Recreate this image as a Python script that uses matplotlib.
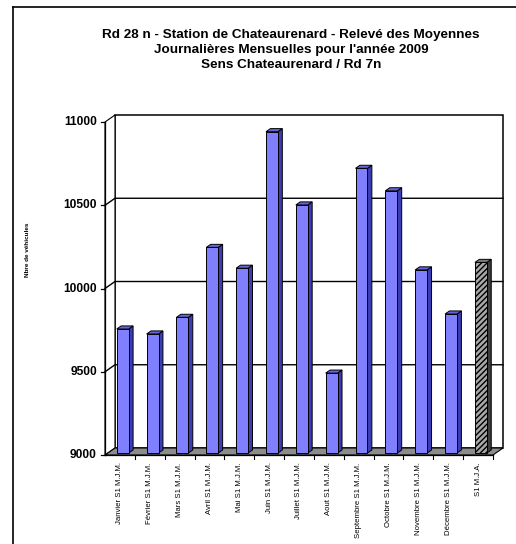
import matplotlib.pyplot as plt
from matplotlib.patches import Polygon, Rectangle
from matplotlib.lines import Line2D

months = ["Janvier S1 M.J.M.", "Février S1 M.J.M.", "Mars S1 M.J.M.", "Avril S1 M.J.M.",
          "Mai S1 M.J.M.", "Juin S1 M.J.M.", "Juillet S1 M.J.M.", "Aout S1 M.J.M.",
          "Septembre S1 M.J.M.", "Octobre S1 M.J.M.", "Novembre S1 M.J.M.",
          "Décembre S1 M.J.M.", "S1 M.J.A."]
values = [9745, 9715, 9815, 10235, 10110, 10930, 10490, 9480, 10710, 10575, 10100, 9835, 10145]
yticks = [9000, 9500, 10000, 10500, 11000]

title = ("Rd 28 n - Station de Chateaurenard - Relevé des Moyennes\n"
         "Journalières Mensuelles pour l'année 2009\n"
         "Sens Chateaurenard / Rd 7n")

plt.rcParams['font.family'] = ['Liberation Sans', 'DejaVu Sans']

W, H = 516, 544
fig = plt.figure(figsize=(W / 100, H / 100), dpi=100)

# outer frame (left + top)
fig.add_artist(Line2D([13 / W, 13 / W], [0, 1 - 7 / H], color='black', lw=1.2))
fig.add_artist(Line2D([13 / W, 1], [1 - 7 / H, 1 - 7 / H], color='black', lw=1.2))

fig.text(291 / W, 1 - 50 / H, title, ha='center', va='center', fontsize=9.7,
         fontweight='bold', linespacing=1.33)

ax = fig.add_axes([105 / W, (H - 455) / H, 388 / W, 333 / H])
n = len(values)
ymin, ymax = yticks[0], yticks[-1]
ax.set_xlim(-0.5, n - 0.5)
ax.set_ylim(ymin, ymax)
for s in ax.spines.values():
    s.set_visible(False)
ax.set_xticks([])
ax.set_yticks([])
ax.patch.set_alpha(0)

# depth offsets (category units / value units)
dx, dy = 0.335, 42
x0, x1 = -0.5, n - 0.5


def poly(pts, **kw):
    p = Polygon(pts, closed=True, clip_on=False, **kw)
    ax.add_patch(p)
    return p


# back wall and left wall
poly([(x0 + dx, ymin + dy), (x1 + dx, ymin + dy), (x1 + dx, ymax + dy), (x0 + dx, ymax + dy)],
     facecolor='white', edgecolor='black', lw=1.1, zorder=1)
poly([(x0, ymin), (x0 + dx, ymin + dy), (x0 + dx, ymax + dy), (x0, ymax)],
     facecolor='white', edgecolor='black', lw=0.8, zorder=1)
# gridlines
for t in yticks[1:-1]:
    ax.plot([x0, x0 + dx, x1 + dx], [t, t + dy, t + dy], color='black', lw=1.0,
            clip_on=False, zorder=2)
# floor
poly([(x0, ymin), (x1, ymin), (x1 + dx, ymin + dy), (x0 + dx, ymin + dy)],
     facecolor='#8c8c8c', edgecolor='black', lw=0.8, zorder=2)

# front axes
ax.plot([x0, x0], [ymin, ymax], color='black', lw=0.9, clip_on=False, zorder=3)
ax.plot([x0, x1], [ymin, ymin], color='black', lw=0.9, clip_on=False, zorder=3)
for t in yticks:
    ax.plot([x0 - 0.15, x0], [t, t], color='black', lw=0.9, clip_on=False, zorder=3)
    ax.text(x0 - 0.27, t, str(t), ha='right', va='center', fontsize=8.6, fontweight='bold')
for i in range(n):
    ax.plot([i + 0.5, i + 0.5], [ymin, ymin - 25], color='black', lw=0.8,
            clip_on=False, zorder=3)
    ax.text(i, ymin - 45, months[i], rotation=90, ha='center', va='top', fontsize=5.6)

ax.text(-3.1, 10230, "Nbre de véhicules", rotation=90, ha='center', va='center',
        fontsize=4.6, fontweight='bold')

# 3D-like bars
bw = 0.4
f0, f1 = 0.28, 0.72
for i, v in enumerate(values):
    last = i == n - 1
    front = '#a8a8a8' if last else '#8080ff'
    side = '#3c3c3c' if last else '#3c3cb4'
    top = '#7a7a7a' if last else '#6464dc'
    hatch = '//////' if last else None
    xl = i - bw / 2 + f0 * dx
    xr = xl + bw
    yb = ymin + f0 * dy
    yt = v + f0 * dy
    ddx = (f1 - f0) * dx
    ddy = (f1 - f0) * dy
    poly([(xr, yb), (xr + ddx, yb + ddy), (xr + ddx, yt + ddy), (xr, yt)],
         facecolor=side, edgecolor='black', lw=0.7, zorder=4)
    poly([(xl, yt), (xr, yt), (xr + ddx, yt + ddy), (xl + ddx, yt + ddy)],
         facecolor=top, edgecolor='black', lw=0.7, zorder=4)
    r = Rectangle((xl, yb), bw, yt - yb, facecolor=front, edgecolor='black', lw=0.7,
                  hatch=hatch, clip_on=False, zorder=5)
    ax.add_patch(r)

fig.savefig('out.png', dpi=100)
